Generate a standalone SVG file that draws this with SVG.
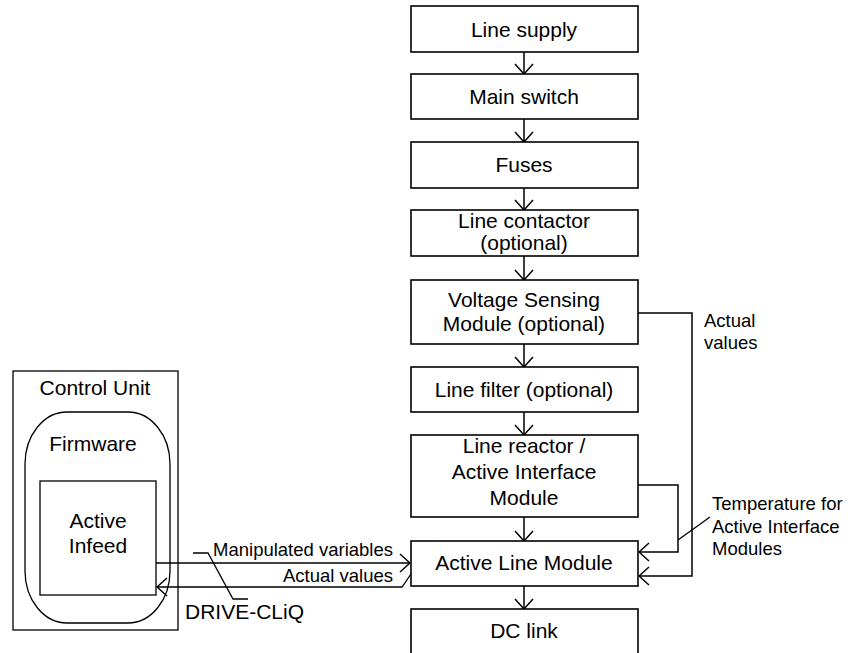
<svg xmlns="http://www.w3.org/2000/svg" width="850" height="653" viewBox="0 0 850 653">
<defs>
<style>
.box{fill:#fff;stroke:#000;stroke-width:1.6}
.thin{fill:none;stroke:#000;stroke-width:1.3}
.ln{fill:none;stroke:#000;stroke-width:1.5}
text{font-family:"Liberation Sans",Arial,sans-serif;fill:#000}
.m{font-size:21px;text-anchor:middle}
.s{font-size:18.5px}
</style>
<marker id="ah" viewBox="0 0 12 20" refX="11" refY="10" markerWidth="12" markerHeight="20" markerUnits="userSpaceOnUse" orient="auto">
<path d="M1,1 L11,10 L1,19" fill="none" stroke="#000" stroke-width="1.5"/>
</marker>
</defs>
<rect width="850" height="653" fill="#fff"/>

<g id="connectors">
<line class="ln" x1="524" y1="52" x2="524" y2="74" marker-end="url(#ah)"/>
<line class="ln" x1="524" y1="119" x2="524" y2="142" marker-end="url(#ah)"/>
<line class="ln" x1="524" y1="188" x2="524" y2="210" marker-end="url(#ah)"/>
<line class="ln" x1="524" y1="256" x2="524" y2="280" marker-end="url(#ah)"/>
<line class="ln" x1="524" y1="344" x2="524" y2="367" marker-end="url(#ah)"/>
<line class="ln" x1="524" y1="412" x2="524" y2="435" marker-end="url(#ah)"/>
<line class="ln" x1="524" y1="517" x2="524" y2="541" marker-end="url(#ah)"/>
<line class="ln" x1="524" y1="586" x2="524" y2="609" marker-end="url(#ah)"/>
<polyline class="ln" points="638,313 692,313 692,576 639,576" marker-end="url(#ah)"/>
<polyline class="ln" points="638,485 678,485 678,552 639,552" marker-end="url(#ah)"/>
<line class="thin" x1="678" y1="540" x2="710" y2="517"/>
<line class="thin" x1="156" y1="563" x2="410" y2="563" marker-end="url(#ah)"/>
<polyline class="thin" points="411,574 402,587 157,587" marker-end="url(#ah)"/>
<polyline class="thin" points="193,553 208,553 233,599 248,599"/>
</g>

<g id="line-supply"><rect class="box" x="411" y="6" width="227" height="46"/><text class="m" x="524" y="37">Line supply</text></g>
<g id="main-switch"><rect class="box" x="411" y="74" width="227" height="45"/><text class="m" x="524" y="104">Main switch</text></g>
<g id="fuses"><rect class="box" x="411" y="142" width="227" height="46"/><text class="m" x="524" y="172">Fuses</text></g>
<g id="line-contactor"><rect class="box" x="411" y="210" width="227" height="46"/><text class="m" x="524" y="228">Line contactor</text><text class="m" x="524" y="250">(optional)</text></g>
<g id="vsm"><rect class="box" x="411" y="280" width="227" height="64"/><text class="m" x="524" y="307">Voltage Sensing</text><text class="m" x="524" y="331">Module (optional)</text></g>
<g id="line-filter"><rect class="box" x="411" y="367" width="227" height="45"/><text class="m" x="524" y="397">Line filter (optional)</text></g>
<g id="line-reactor"><rect class="box" x="411" y="435" width="227" height="82"/><text class="m" x="524" y="453">Line reactor /</text><text class="m" x="524" y="479">Active Interface</text><text class="m" x="524" y="505">Module</text></g>
<g id="alm"><rect class="box" x="411" y="541" width="227" height="45"/><text class="m" x="524" y="570">Active Line Module</text></g>
<g id="dc-link"><rect class="box" x="411" y="609" width="227" height="60"/><text class="m" x="524" y="638">DC link</text></g>

<g id="control-unit"><rect class="thin" x="13" y="371" width="165" height="259"/><text class="m" x="95" y="395">Control Unit</text></g>
<g id="firmware"><rect class="thin" x="25" y="412" width="145" height="211" rx="42" ry="52"/><text class="m" x="93" y="451">Firmware</text></g>
<g id="active-infeed"><rect class="thin" x="40" y="481" width="116" height="114"/><text class="m" x="98" y="528">Active</text><text class="m" x="98" y="553">Infeed</text></g>

<g id="labels">
<text class="s" x="704" y="327">Actual</text>
<text class="s" x="704" y="349">values</text>
<text class="s" x="712" y="510">Temperature for</text>
<text class="s" x="712" y="533">Active Interface</text>
<text class="s" x="712" y="555">Modules</text>
<text class="s" x="393" y="556" text-anchor="end">Manipulated variables</text>
<text class="s" x="393" y="582" text-anchor="end">Actual values</text>
<text x="185" y="619" font-size="21">DRIVE-CLiQ</text>
</g>
</svg>
